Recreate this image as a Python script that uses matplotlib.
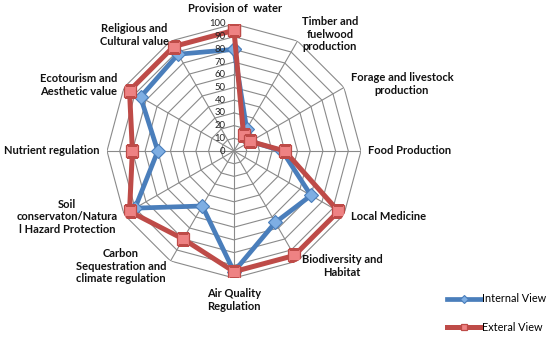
import numpy as np
import matplotlib.pyplot as plt

# data
categories = ["Provision of  water", "Timber and\nfuelwood\nproduction",
              "Forage and livestock\nproduction", "Food Production",
              "Local Medicine", "Biodiversity and\nHabitat",
              "Air Quality\nRegulation",
              "Carbon\nSequestration and\nclimate regulation",
              "Soil\nconservaton/Natura\nl Hazard Protection",
              "Nutrient regulation", "Ecotourism and\nAesthetic value",
              "Religious and\nCultural value"]
internal = [80, 20, 15, 38, 70, 65, 95, 50, 90, 60, 85, 88]
external = [95, 15, 15, 40, 95, 95, 95, 80, 95, 80, 95, 95]
ticks = list(range(0, 101, 10))

# label anchors in pixels (x, y from top), alignment
label_pos = [(235, 9, "center"), (330, 34, "center"), (402, 84, "center"),
             (368, 151, "left"), (351, 217, "left"), (342, 266, "center"),
             (234, 300, "center"), (121, 266, "center"), (67, 217, "center"),
             (100, 151, "right"), (79, 85, "center"), (134, 35, "center")]

W, H = 550, 337
fig = plt.figure(figsize=(W / 100, H / 100), dpi=100)
cx, cy, R = 234, 151, 127
ax = fig.add_axes([(cx - R) / W, (H - cy - R) / H, 2 * R / W, 2 * R / H],
                  projection="polar")
ax.set_theta_zero_location("N")
ax.set_theta_direction(-1)
ax.set_ylim(0, 100)
ax.grid(False)
ax.set_xticks([])
ax.set_yticks([])
ax.spines["polar"].set_visible(False)
ax.patch.set_alpha(0)

n = len(categories)
theta = np.arange(n) * 2 * np.pi / n
theta_c = np.append(theta, theta[0])

gcol = "#8a8a8a"
for t in ticks[1:]:
    ax.plot(theta_c, [t] * (n + 1), color=gcol, lw=0.8, zorder=1)
for th in theta:
    ax.plot([th, th], [0, 100], color=gcol, lw=0.8, zorder=1)
for t in ticks:
    ax.annotate(str(t), (0, t), xytext=(-6, 0), textcoords="offset points",
                ha="right", va="center", fontsize=6.8, family="Lato",
                color="#222222", zorder=5)

ax.plot(theta_c, internal + internal[:1], color="#4A7EBB", lw=3.4,
        marker="D", ms=7, mfc="#7EAEE3", mec="#4A7EBB", mew=0.8,
        label="Internal View", zorder=3)
ax.plot(theta_c, external + external[:1], color="#BE4B48", lw=3.6,
        marker="s", ms=9, mfc="#EE8283", mec="#BE4B48", mew=0.9,
        label="Exteral View", zorder=4)

for lab, (x, y, ha) in zip(categories, label_pos):
    fig.text(x / W, 1 - y / H, lab, ha=ha, va="center", multialignment="center",
             fontsize=8.0, family="Lato", fontweight="bold", color="#111111",
             linespacing=1.2)

fig.legend(loc="center left", bbox_to_anchor=(442 / W, 1 - 313 / H),
           frameon=False, prop={"family": "Lato", "size": 7.8},
           handlelength=3.1, handletextpad=0.05, labelspacing=1.6,
           borderpad=0, markerscale=0.55)

plt.savefig("out.png", dpi=100)
